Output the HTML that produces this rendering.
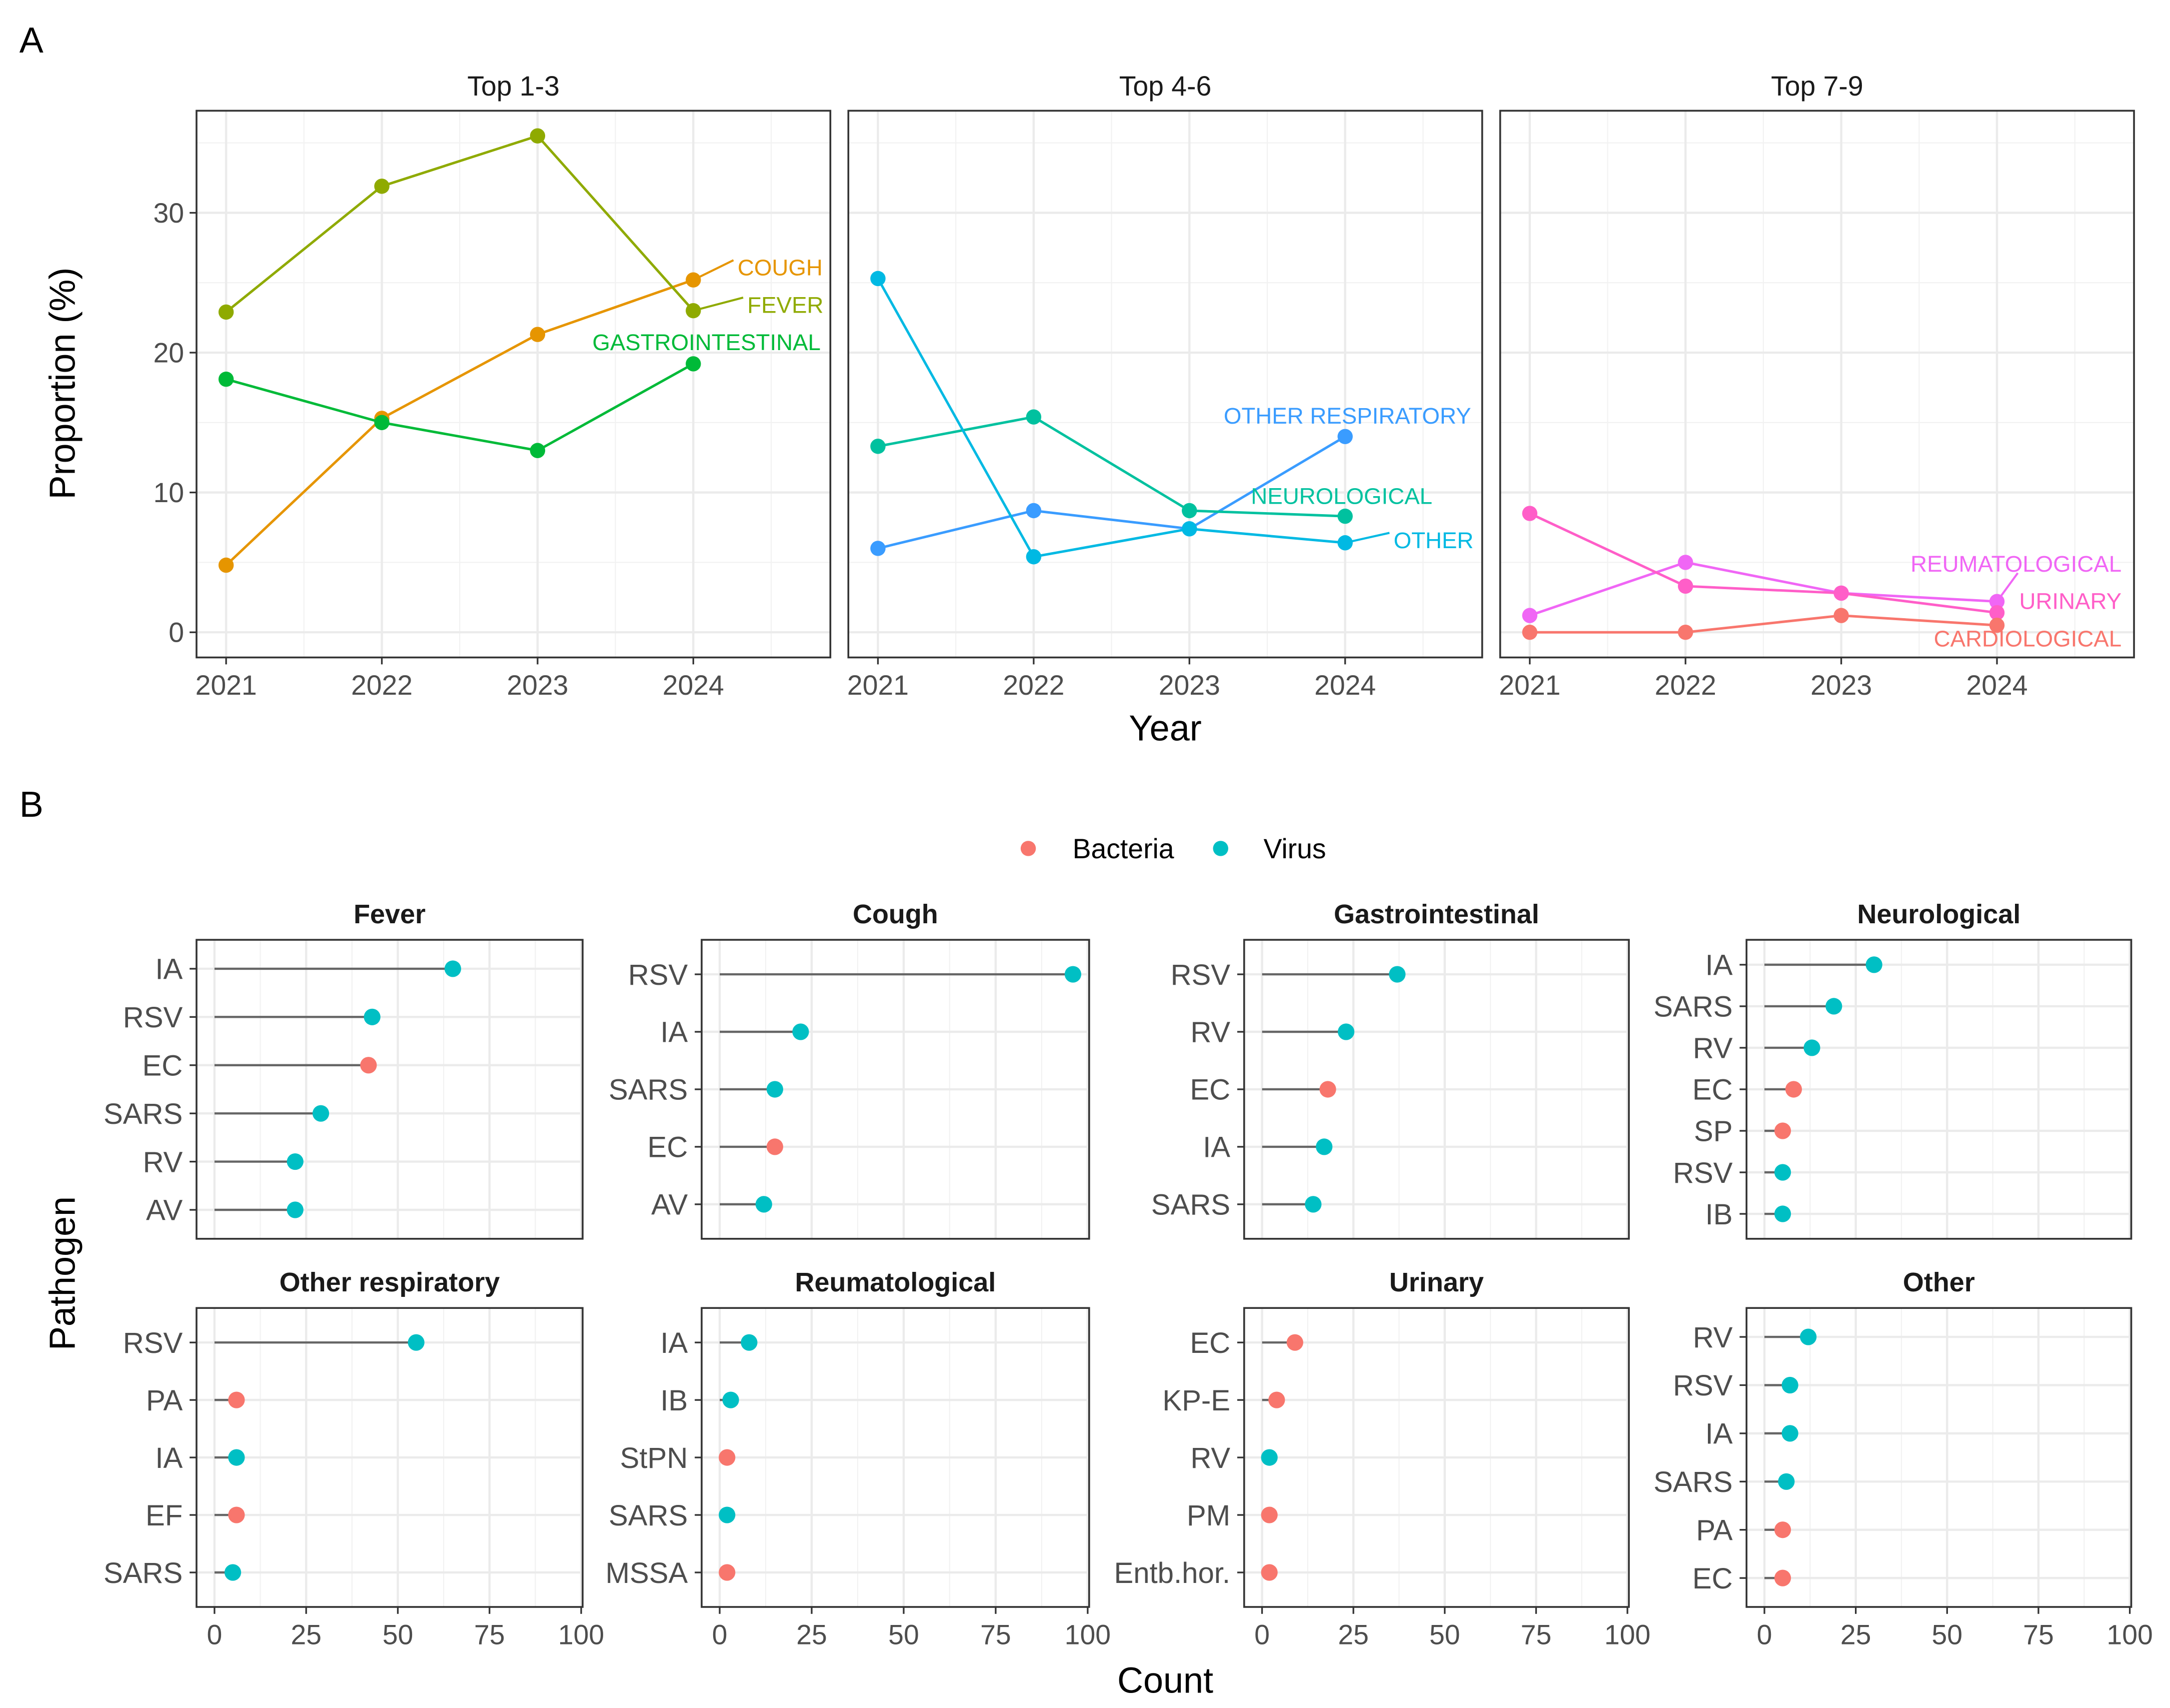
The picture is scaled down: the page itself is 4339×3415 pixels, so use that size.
<!DOCTYPE html>
<html><head><meta charset="utf-8"><style>
html,body{margin:0;padding:0;background:#fff}
svg{display:block;font-family:"Liberation Sans",Arial,sans-serif}
</style></head><body>
<svg id="chart" width="4339" height="3415" viewBox="0 0 1568 1234" preserveAspectRatio="none" xmlns="http://www.w3.org/2000/svg"></svg>
<script>
// ---------- Panel A data ----------
const years = [2021, 2022, 2023, 2024];
const yTicksA = [0, 10, 20, 30];
const facetTitlesA = ["Top 1-3", "Top 4-6", "Top 7-9"];
const seriesNamesA = [["COUGH","FEVER","GASTROINTESTINAL"],["OTHER RESPIRATORY","NEUROLOGICAL","OTHER"],["REUMATOLOGICAL","URINARY","CARDIOLOGICAL"]];
const seriesColorsA = [["#E69500","#8FAA00","#00BA38"],["#3A9CFF","#00C19F","#00B9E3"],["#F066F5","#FF5EC8","#F8766D"]];
const coughVals = [4.8, 15.3, 21.3, 25.2];
const feverVals = [22.9, 31.9, 35.5, 23.0];
const giVals = [18.1, 15.0, 13.0, 19.2];
const otherRespVals = [6.0, 8.7, 7.4, 14.0];
const neuroVals = [13.3, 15.4, 8.7, 8.3];
const otherVals = [25.3, 5.4, 7.4, 6.4];
const reumVals = [1.2, 5.0, 2.8, 2.2];
const urinaryVals = [8.5, 3.3, 2.8, 1.4];
const cardioVals = [0.0, 0.0, 1.2, 0.5];
const valuesA = [[coughVals, feverVals, giVals],[otherRespVals, neuroVals, otherVals],[reumVals, urinaryVals, cardioVals]];
const labelPos = [[[533,193,"start",530],[540,220,"start",537],[593,247,"end",null]],
                  [[1063,300,"end",null],[1035,358,"end",null],[1007,390,"start",1004]],
                  [[1533,407,"end",1458],[1533,434,"end",null],[1533,461,"end",null]]];

// ---------- Panel B data ----------
const facetTitlesB = ["Fever","Cough","Gastrointestinal","Neurological","Other respiratory","Reumatological","Urinary","Other"];
const pathogensB = [
 ["IA","RSV","EC","SARS","RV","AV"],
 ["RSV","IA","SARS","EC","AV"],
 ["RSV","RV","EC","IA","SARS"],
 ["IA","SARS","RV","EC","SP","RSV","IB"],
 ["RSV","PA","IA","EF","SARS"],
 ["IA","IB","StPN","SARS","MSSA"],
 ["EC","KP-E","RV","PM","Entb.hor."],
 ["RV","RSV","IA","SARS","PA","EC"]];
const countsB = [
 [65,43,42,29,22,22],
 [96,22,15,15,12],
 [37,23,18,17,14],
 [30,19,13,8,5,5,5],
 [55,6,6,6,5],
 [8,3,2,2,2],
 [9,4,2,2,2],
 [12,7,7,6,5,5]];
const typesB = [
 ["V","V","B","V","V","V"],
 ["V","V","V","B","V"],
 ["V","V","B","V","V"],
 ["V","V","V","B","B","V","V"],
 ["V","B","V","B","V"],
 ["V","V","B","V","B"],
 ["B","B","V","B","B"],
 ["V","V","V","V","B","B"]];
const xTicksB = [0,25,50,75,100];
const typeColor = {B:"#F8766D", V:"#00BFC4"};

const svg = document.getElementById('chart');
const NS = "http://www.w3.org/2000/svg";
function mk(tag, attrs, parent){const e=document.createElementNS(NS,tag);for(const k in attrs)e.setAttribute(k,attrs[k]);(parent||svg).appendChild(e);return e;}
function txt(s, attrs, parent){const e=mk('text',attrs,parent);e.textContent=s;return e;}

let t;
t=txt("A",{x:14,y:38,"font-size":26});


t=txt("B",{x:14,y:590,"font-size":26});



// ---------- Panel A ----------
const panelXA = [142, 613, 1084], pW = 458, pTop=80, pBot=475;
const xDomA = [2020.81, 2024.88], yDomA=[-1.8, 37.3];
function sxA(i, v){return panelXA[i] + (v-xDomA[0])/(xDomA[1]-xDomA[0])*pW;}
function syA(v){return pBot - (v-yDomA[0])/(yDomA[1]-yDomA[0])*(pBot-pTop);}
for(let p=0;p<3;p++){
  const g=mk('g',{});
  
  
  mk('rect',{x:panelXA[p],y:pTop,width:pW,height:pBot-pTop,fill:"#fff"},g);
  for(let v=5; v<37; v+=10) mk('line',{x1:panelXA[p],x2:panelXA[p]+pW,y1:syA(v),y2:syA(v),stroke:"#F2F2F2","stroke-width":0.8},g);
  for(let y=2020.5;y<2025;y+=1){const x=sxA(p,y); if(x>panelXA[p]&&x<panelXA[p]+pW) mk('line',{x1:x,x2:x,y1:pTop,y2:pBot,stroke:"#F2F2F2","stroke-width":0.8},g);}
  yTicksA.forEach(v=>mk('line',{x1:panelXA[p],x2:panelXA[p]+pW,y1:syA(v),y2:syA(v),stroke:"#EBEBEB","stroke-width":1.6},g));
  years.forEach(y=>{const x=sxA(p,y);mk('line',{x1:x,x2:x,y1:pTop,y2:pBot,stroke:"#EBEBEB","stroke-width":1.6},g);
    mk('line',{x1:x,x2:x,y1:pBot,y2:pBot+5,stroke:"#333","stroke-width":1.2},g);
    const tl=txt(String(y),{x:x,y:pBot+27,"font-size":20,"text-anchor":"middle",fill:"#4D4D4D"},g);
    
    });
  const st=txt(facetTitlesA[p],{x:panelXA[p]+pW/2,y:69,"font-size":20,"text-anchor":"middle",fill:"#1A1A1A"},g);
  
  
  for(let s=0;s<3;s++){
    const vals=valuesA[p][s], col=seriesColorsA[p][s];
    const sg=mk('g',{},g);
    
    
    mk('polyline',{points:vals.map((v,i)=>sxA(p,years[i])+","+syA(v)).join(" "),fill:"none",stroke:col,"stroke-width":1.8},sg);
    vals.forEach((v,i)=>{const c=mk('circle',{cx:sxA(p,years[i]),cy:syA(v),r:5.5,fill:col},sg);
      
      });
    const lp=labelPos[p][s];
    const lastX=sxA(p,years[3]), lastY=syA(vals[3]);
    if(lp[3]!==null){
      let ex=lp[3], ey=lp[1]-5;
      if(lp[2]==="end"){ey=lp[1]+7;}
      mk('line',{x1:lastX,y1:lastY,x2:ex,y2:ey,stroke:col,"stroke-width":1.5},sg);
    }
    const lt=txt(seriesNamesA[p][s],{x:lp[0],y:lp[1]+6,"font-size":16.5,"text-anchor":lp[2],fill:col},sg);
    
    
  }
  mk('rect',{x:panelXA[p],y:pTop,width:pW,height:pBot-pTop,fill:"none",stroke:"#333","stroke-width":1.3},g);
}
yTicksA.forEach(v=>{mk('line',{x1:137,x2:142,y1:syA(v),y2:syA(v),stroke:"#333","stroke-width":1.2});
  const tl=txt(String(v),{x:133,y:syA(v)+7,"font-size":20,"text-anchor":"end",fill:"#4D4D4D"});
  
  });
t=txt("Proportion (%)",{x:0,y:0,"font-size":26,"text-anchor":"middle",transform:"translate(54,277) rotate(-90)"});


t=txt("Year",{x:842,y:535,"font-size":26,"text-anchor":"middle"});



// ---------- Legend ----------
const lg=mk('g',{});


let c=mk('circle',{cx:743,cy:613,r:5.5,fill:typeColor.B},lg);


t=txt("Bacteria",{x:775,y:620,"font-size":20},lg);


c=mk('circle',{cx:882,cy:613,r:5.5,fill:typeColor.V},lg);


t=txt("Virus",{x:913,y:620,"font-size":20},lg);



// ---------- Panel B ----------
const colX=[[142,421],[507,787],[899,1177],[1262,1540]];
const rowY=[[679,895],[945,1161]];
const xDomB=[-4.9,100.4];
for(let f=0;f<8;f++){
  const col=f%4,row=Math.floor(f/4);
  const [x0,x1]=colX[col],[y0,y1]=rowY[row];
  const sx=v=>x0+(v-xDomB[0])/(xDomB[1]-xDomB[0])*(x1-x0);
  const n=pathogensB[f].length, step=(y1-y0)/(n+0.2);
  const sy=i=>y0+(0.6+i)*step;
  const g=mk('g',{});
  
  
  for(let v=12.5;v<100;v+=25) mk('line',{x1:sx(v),x2:sx(v),y1:y0,y2:y1,stroke:"#F2F2F2","stroke-width":0.8},g);
  xTicksB.forEach(v=>mk('line',{x1:sx(v),x2:sx(v),y1:y0,y2:y1,stroke:"#EBEBEB","stroke-width":1.6},g));
  for(let i=0;i<n;i++) mk('line',{x1:x0,x2:x1,y1:sy(i),y2:sy(i),stroke:"#EBEBEB","stroke-width":1.6},g);
  const st=txt(facetTitlesB[f],{x:(x0+x1)/2,y:y0-12,"font-size":19.5,"font-weight":"bold","text-anchor":"middle",fill:"#1A1A1A"},g);
  
  
  for(let i=0;i<n;i++){
    mk('line',{x1:x0-5,x2:x0,y1:sy(i),y2:sy(i),stroke:"#333","stroke-width":1.2},g);
    const tl=txt(pathogensB[f][i],{x:x0-10,y:sy(i)+7.5,"font-size":21,"text-anchor":"end",fill:"#4D4D4D"},g);
    
    
    const seg=mk('line',{x1:sx(0),x2:sx(countsB[f][i]),y1:sy(i),y2:sy(i),stroke:"#666","stroke-width":1.6},g);
    
    
    const p=mk('circle',{cx:sx(countsB[f][i]),cy:sy(i),r:6,fill:typeColor[typesB[f][i]]},g);
    
    
  }
  mk('rect',{x:x0,y:y0,width:x1-x0,height:y1-y0,fill:"none",stroke:"#333","stroke-width":1.3},g);
  if(row===1){
    xTicksB.forEach(v=>{mk('line',{x1:sx(v),x2:sx(v),y1:y1,y2:y1+5,stroke:"#333","stroke-width":1.2},g);
      const tl=txt(String(v),{x:sx(v),y:y1+27,"font-size":20,"text-anchor":"middle",fill:"#4D4D4D"},g);
      
      });
  }
}
t=txt("Pathogen",{x:0,y:0,"font-size":26,"text-anchor":"middle",transform:"translate(54,920) rotate(-90)"});


t=txt("Count",{x:842,y:1223,"font-size":26,"text-anchor":"middle"});


</script>
</body></html>
